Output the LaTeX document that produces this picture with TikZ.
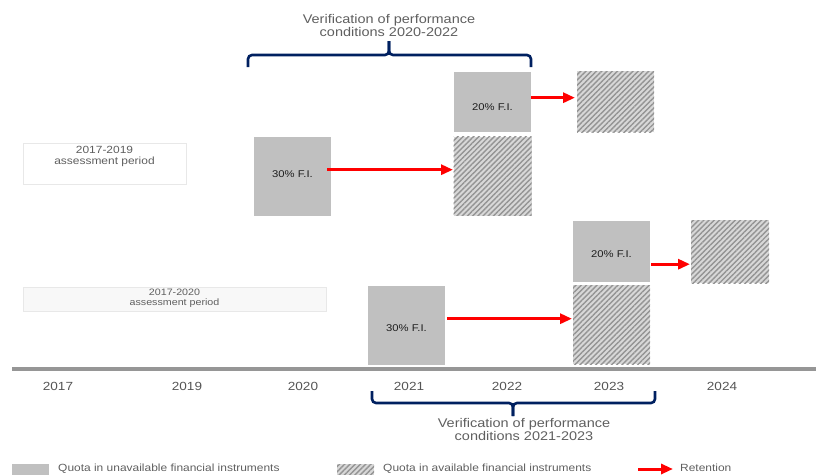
\documentclass[tikz,border=0pt]{standalone}
\usepackage{fontspec}
\setmainfont[FakeStretch=1.15]{Liberation Sans}
\usetikzlibrary{arrows.meta,patterns.meta}
\definecolor{solidgray}{RGB}{192,192,192}
\definecolor{hatchbg}{RGB}{216,216,216}
\definecolor{hatchfg}{RGB}{148,148,148}
\definecolor{retred}{RGB}{255,0,0}
\definecolor{navy}{RGB}{0,32,96}
\definecolor{axisgray}{RGB}{150,150,150}
\definecolor{titletext}{RGB}{95,95,95}
\definecolor{yeartext}{RGB}{85,85,85}
\definecolor{boxtext}{RGB}{30,30,30}
\definecolor{periodborder}{RGB}{232,232,232}
\definecolor{periodfill}{RGB}{248,248,248}
\begin{document}
\begin{tikzpicture}[x=1pt,y=-1pt]
\tikzset{
  solidbox/.style={fill=solidgray, draw=none, inner sep=0pt, anchor=north west},
  hatchbox/.style={pattern={Lines[angle=45,distance=3.7pt,line width=1.4pt]}, pattern color=hatchfg, preaction={fill=hatchbg}, draw=none, inner sep=0pt, anchor=north west},
  boxlabel/.style={font=\fontsize{9.8}{10}\selectfont, text=boxtext, inner sep=0pt},
  retarrow/.style={draw=retred, line width=3pt, -{Triangle[length=12pt,width=10pt]}},
  navybrace/.style={draw=navy, line width=2.6pt, rounded corners=4pt},
  yearlabel/.style={font=\fontsize{11.8}{12}\selectfont, text=yeartext, inner sep=0pt},
  titlelabel/.style={font=\fontsize{12.6}{11}\selectfont, text=titletext, align=center, inner sep=0pt},
  periodbox/.style={draw=periodborder, line width=0.6pt, inner sep=0pt, anchor=north west},
  periodlabel/.style={text=titletext, align=center, inner sep=0pt, anchor=north},
  legendlabel/.style={font=\fontsize{10.4}{11}\selectfont, text=titletext, inner sep=0pt, anchor=base west}
}
\useasboundingbox (0,0) rectangle (816,474);

% top title and brace
\node[titlelabel] (title1) at (389,25.5) {Verification of performance\\conditions 2020-2022};
\coordinate (b1l) at (248,67);
\coordinate (b1r) at (531,67);
\coordinate (b1m) at (389,41);
\draw[navybrace] (b1l) -- (248,55) -- (389,55) -- (b1m);
\draw[navybrace] (b1r) -- (531,55) -- (389,55) -- (b1m);

% period boxes
\node[periodbox, fill=white, minimum width=163pt, minimum height=41pt] (p1) at (23,143) {};
\node[periodlabel, font=\fontsize{10.4}{10.5}\selectfont] (p1t) at (104.5,146.5) {2017-2019\\assessment period};
\node[periodbox, fill=periodfill, minimum width=303pt, minimum height=24pt] (p2) at (23,287) {};
\node[periodlabel, font=\fontsize{9.3}{9.8}\selectfont] (p2t) at (174.5,289) {2017-2020\\assessment period};

% upper group
\node[solidbox, minimum width=77pt, minimum height=79pt] (u30) at (254,137) {};
\node[boxlabel] (u30t) at (292.5,174) {30\% F.I.};
\node[hatchbox, minimum width=78pt, minimum height=79pt] (u30h) at (453,136) {};
\node[solidbox, minimum width=77pt, minimum height=60pt] (u20) at (454,72) {};
\node[boxlabel] (u20t) at (492.5,107) {20\% F.I.};
\node[hatchbox, minimum width=77pt, minimum height=61pt] (u20h) at (577,71) {};
\coordinate (ua1) at ([xshift=-4pt,yshift=7pt]u30.east);
\coordinate (ua2) at ([yshift=4.5pt]u20.east);
\draw[retarrow] (ua1) -- (ua1 -| u30h.west);
\draw[retarrow] (ua2) -- ([xshift=-2pt]ua2 -| u20h.west);

% lower group
\node[solidbox, minimum width=77pt, minimum height=79pt] (l30) at (368,286) {};
\node[boxlabel] (l30t) at (406.5,328) {30\% F.I.};
\node[hatchbox, minimum width=77pt, minimum height=79pt] (l30h) at (573,285) {};
\node[solidbox, minimum width=77pt, minimum height=61pt] (l20) at (573,221) {};
\node[boxlabel] (l20t) at (611.5,254) {20\% F.I.};
\node[hatchbox, minimum width=78pt, minimum height=63pt] (l20h) at (691,220) {};
\coordinate (la1) at ([xshift=2pt,yshift=7pt]l30.east);
\coordinate (la2) at ([xshift=1pt,yshift=-12.5pt]l20.east);
\draw[retarrow] (la1) -- ([xshift=-1pt]la1 -| l30h.west);
\draw[retarrow] (la2) -- ([xshift=-1pt]la2 -| l20h.west);

% timeline
\coordinate (axl) at (12,369);
\coordinate (axr) at (816,369);
\draw[draw=axisgray, line width=4pt] (axl) -- (axr);
\node[yearlabel] (y2017) at (58,386) {2017};
\node[yearlabel] (y2019) at (187,386) {2019};
\node[yearlabel] (y2020) at (303,386) {2020};
\node[yearlabel] (y2021) at (409,386) {2021};
\node[yearlabel] (y2022) at (507,386) {2022};
\node[yearlabel] (y2023) at (609,386) {2023};
\node[yearlabel] (y2024) at (722,386) {2024};

% bottom brace and title
\coordinate (b2l) at (372,391);
\coordinate (b2r) at (655,391);
\coordinate (b2m) at (513,416);
\draw[navybrace] (b2l) -- (372,403) -- (513,403) -- (b2m);
\draw[navybrace] (b2r) -- (655,403) -- (513,403) -- (b2m);
\node[titlelabel, font=\fontsize{12.6}{13}\selectfont] (title2) at (524,429.5) {Verification of performance\\conditions 2021-2023};

% legend
\node[solidbox, minimum width=37pt, minimum height=14pt] (lg1) at (12,464) {};
\node[legendlabel] (lg1t) at (58,471) {Quota in unavailable financial instruments};
\node[hatchbox, minimum width=37pt, minimum height=14pt] (lg2) at (337,464) {};
\node[legendlabel] (lg2t) at (383,471) {Quota in available financial instruments};
\coordinate (lg3a) at (638,469);
\coordinate (lg3b) at (673,469);
\draw[retarrow] (lg3a) -- (lg3b);
\node[legendlabel] (lg3t) at (680,471) {Retention};
\end{tikzpicture}
\end{document}
